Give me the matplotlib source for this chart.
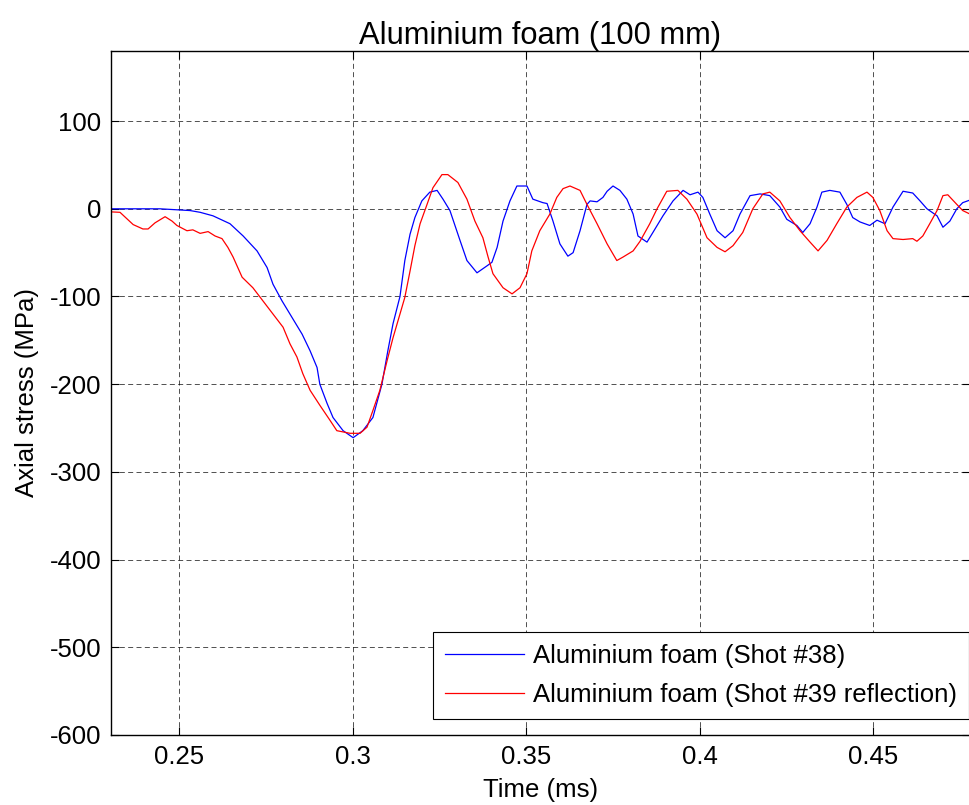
"""Axial stress history, aluminium foam 100 mm (shots #38 and #39)."""

import matplotlib

matplotlib.use("Agg")
import matplotlib.pyplot as plt

# shot #38 (blue)
t_38 = [0.2303, 0.2444, 0.2531, 0.2560, 0.2597, 0.2646, 0.2684, 0.2724, 0.2753,
        0.2770, 0.2796, 0.2825, 0.2854, 0.2877, 0.2897, 0.2905, 0.2926, 0.2943,
        0.2972, 0.3001, 0.3029, 0.3058, 0.3084, 0.3101, 0.3116, 0.3136, 0.3150,
        0.3165, 0.3179, 0.3199, 0.3222, 0.3243, 0.3260, 0.3280, 0.3309, 0.3329,
        0.3358, 0.3387, 0.3401, 0.3416, 0.3433, 0.3453, 0.3473, 0.3502, 0.3519,
        0.3548, 0.3560, 0.3577, 0.3597, 0.3620, 0.3635, 0.3655, 0.3675, 0.3684,
        0.3704, 0.3721, 0.3733, 0.3750, 0.3770, 0.3790, 0.3808, 0.3822, 0.3848,
        0.3865, 0.3894, 0.3923, 0.3952, 0.3972, 0.3995, 0.4009, 0.4029, 0.4050,
        0.4073, 0.4096, 0.4116, 0.4145, 0.4174, 0.4202, 0.4231, 0.4251, 0.4280,
        0.4297, 0.4318, 0.4338, 0.4352, 0.4375, 0.4404, 0.4424, 0.4441, 0.4462,
        0.4490, 0.4511, 0.4534, 0.4557, 0.4586, 0.4614, 0.4635, 0.4655, 0.4684,
        0.4701, 0.4721, 0.4741, 0.4758, 0.4779]
s_38 = [0, 0, -2, -4, -8, -17, -31, -48, -67,
        -86, -105, -124, -143, -162, -181, -200, -222, -238,
        -253, -261, -253, -238, -200, -162, -131, -100, -59,
        -29, -10, 9, 19, 21, 11, -2, -36, -59,
        -73, -65, -61, -44, -14, 9, 26, 26, 11,
        7, 6, -14, -40, -54, -50, -25, 5, 9,
        8, 13, 20, 26, 21, 11, -6, -31, -38,
        -27, -8, 9, 21, 16, 19, 13, -6, -25,
        -33, -25, -6, 15, 17, 15, 2, -12, -19,
        -27, -17, 2, 19, 21, 19, 5, -10, -15,
        -19, -13, -17, 2, 20, 18, 9, 0, -8,
        -21, -14, 0, 7, 10]

# shot #39 reflection (red)
t_39 = [0.2303, 0.2329, 0.2367, 0.2395, 0.2410, 0.2430, 0.2459, 0.2479, 0.2493,
        0.2522, 0.2539, 0.2560, 0.2583, 0.2603, 0.2623, 0.2640, 0.2655, 0.2681,
        0.2712, 0.2741, 0.2770, 0.2799, 0.2819, 0.2839, 0.2856, 0.2877, 0.2905,
        0.2934, 0.2954, 0.2992, 0.3021, 0.3041, 0.3058, 0.3078, 0.3099, 0.3116,
        0.3136, 0.3150, 0.3165, 0.3179, 0.3194, 0.3214, 0.3231, 0.3257, 0.3274,
        0.3303, 0.3329, 0.3352, 0.3375, 0.3390, 0.3404, 0.3433, 0.3459, 0.3482,
        0.3502, 0.3516, 0.3539, 0.3568, 0.3588, 0.3606, 0.3626, 0.3655, 0.3675,
        0.3704, 0.3733, 0.3761, 0.3779, 0.3808, 0.3828, 0.3856, 0.3877, 0.3905,
        0.3937, 0.3963, 0.3992, 0.4021, 0.4050, 0.4073, 0.4096, 0.4124, 0.4153,
        0.4182, 0.4202, 0.4231, 0.4260, 0.4289, 0.4318, 0.4341, 0.4367, 0.4395,
        0.4424, 0.4453, 0.4482, 0.4499, 0.4519, 0.4540, 0.4557, 0.4586, 0.4614,
        0.4626, 0.4643, 0.4663, 0.4684, 0.4701, 0.4715, 0.4741, 0.4758, 0.4779]
s_39 = [-3.5, -4, -18, -23, -23, -16, -9, -14, -19,
        -25, -24, -28, -26, -31, -34, -44, -55, -78,
        -90, -105, -120, -135, -154, -169, -188, -207, -224,
        -241, -253, -256, -256, -249, -230, -207, -173, -147,
        -120, -101, -71, -42, -17, 5, 24, 39, 39,
        30, 11, -14, -33, -55, -74, -90, -97, -90,
        -74, -48, -25, -6, 13, 23, 26, 21, 5,
        -17, -40, -59, -55, -48, -37, -17, 0, 20,
        21, 11, -6, -33, -44, -49, -42, -27, 0,
        17, 19, 9, -10, -25, -38, -48, -36, -17,
        2, 13, 19, 13, -2, -25, -34, -35, -34,
        -37, -31, -17, -2, 15, 16, 5, -2, -6]

x_ticks = [0.25, 0.3, 0.35, 0.4, 0.45]
x_tick_labels = ["0.25", "0.3", "0.35", "0.4", "0.45"]
y_ticks = [-600, -500, -400, -300, -200, -100, 0, 100]

plt.rcParams["font.family"] = ["Liberation Sans", "DejaVu Sans"]
plt.rcParams["font.size"] = 18.5
plt.rcParams["axes.unicode_minus"] = False

fig = plt.figure(figsize=(9.7, 8.05), dpi=100)
ax = fig.add_axes([0.1144, 0.087, 0.8856, 0.8497])

ax.plot(t_38, s_38, color="#0000ff", linewidth=0.9,
        label="Aluminium foam (Shot #38)")
ax.plot(t_39, s_39, color="#ff0000", linewidth=0.9,
        label="Aluminium foam (Shot #39 reflection)")

ax.set_xlim(0.2303, 0.4779)
ax.set_ylim(-600, 180)
ax.set_xticks(x_ticks)
ax.set_xticklabels(x_tick_labels)
ax.set_yticks(y_ticks)

ax.grid(True, color="black", linestyle=(0, (6, 4)), linewidth=0.6, alpha=0.8)
ax.tick_params(direction="in", length=6, width=0.8, top=True, right=True,
               pad=7)
for sp in ax.spines.values():
    sp.set_linewidth(1.0)

ax.set_title("Aluminium foam (100 mm)", pad=5)
ax.set_xlabel("Time (ms)", labelpad=7)
ax.set_ylabel("Axial stress (MPa)", labelpad=8)

# legend box spans roughly x 427-969 px, y 635-719 px of the figure
leg = ax.legend(loc="lower right", bbox_to_anchor=(969 / 970, 86 / 805),
                bbox_transform=fig.transFigure, fancybox=False, framealpha=1,
                edgecolor="black", handlelength=3.1, handletextpad=0.35,
                borderaxespad=0, borderpad=0.45, labelspacing=0.6)
leg.get_frame().set_linewidth(0.8)

fig.savefig("out.png", dpi=100)
